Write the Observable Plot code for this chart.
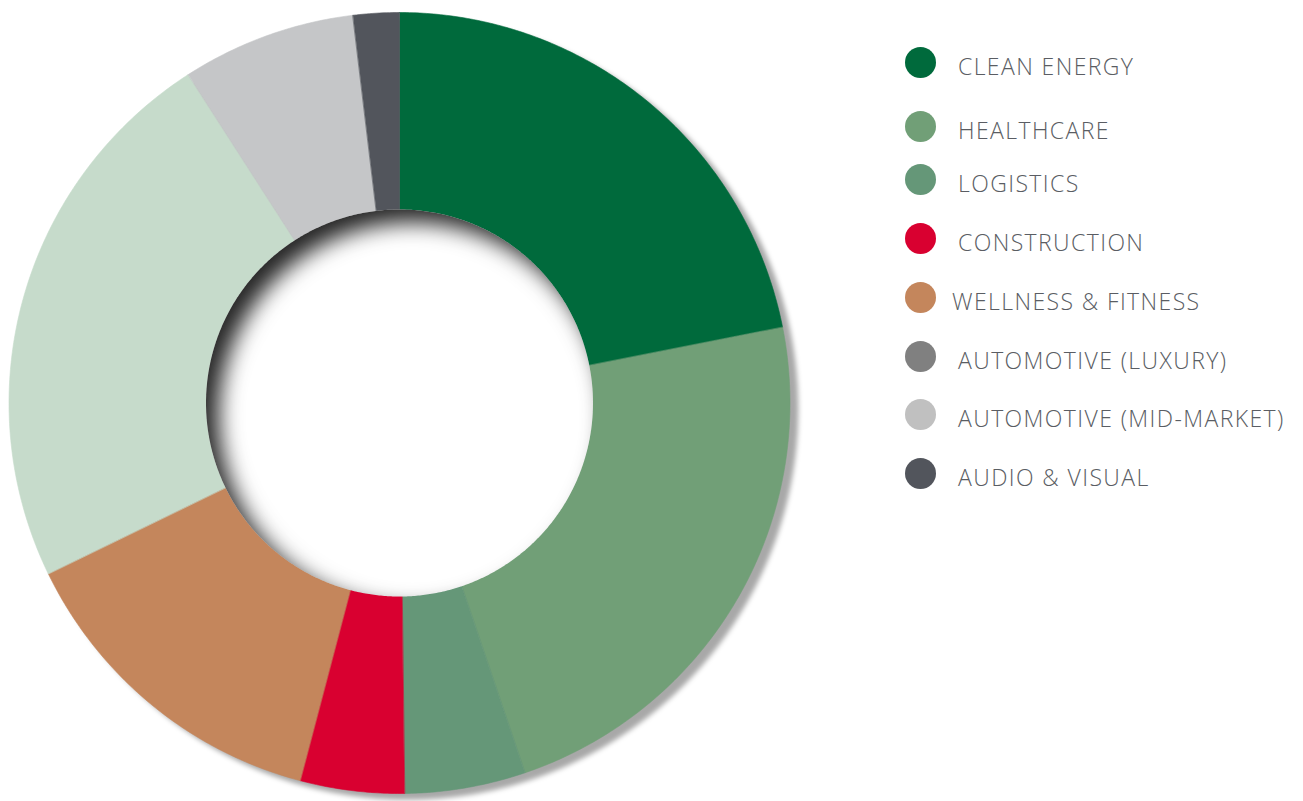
<!DOCTYPE html>
<html>
<head>
<meta charset="utf-8">
<script src="https://cdn.jsdelivr.net/npm/d3@7"></script>
<script src="https://cdn.jsdelivr.net/npm/@observablehq/plot@0.6"></script>
<style>
  html, body { margin: 0; padding: 0; background: #fff; }
  #wrap { position: relative; width: 1303px; height: 801px; overflow: hidden; }
  #chart { position: absolute; left: 0; top: 0; }
  #legend { position: absolute; left: 0; top: 0; width: 1303px; height: 801px; pointer-events: none;
    font-family: "Open Sans", sans-serif; font-weight: 300; font-size: 23px; color: #5a5d63; }
  .row { position: absolute; left: 905px; height: 31px; display: flex; align-items: center; white-space: nowrap; }
  .dot { width: 31px; height: 31px; border-radius: 50%; flex: none; }
  .lbl { margin-left: 22px; position: relative; top: 4px; letter-spacing: 1.4px; }
</style>
</head>
<body>
<div id="wrap">
  <div id="chart"></div>
  <div id="legend"></div>
</div>
<script>
// ---- data ----
const categories = ["CLEAN ENERGY", "HEALTHCARE", "LOGISTICS", "CONSTRUCTION", "WELLNESS & FITNESS", "AUTOMOTIVE (LUXURY)", "AUTOMOTIVE (MID-MARKET)", "AUDIO & VISUAL"];
const shares = [21.9, 22.9, 5.0, 4.3, 13.7, 23.1, 7.2, 1.9];
const sliceColors = ["#006a3c", "#719f77", "#659778", "#d90030", "#c4865c", "#c6dbcb", "#c5c6c8", "#52555c"];
const legendColors = ["#006a3c", "#719f77", "#659778", "#d90030", "#c4865c", "#808080", "#c0c0c0", "#52555c"];

// ---- geometry derived from data ----
const R_OUT = 1, R_IN = 0.4955;
const total = d3.sum(shares);
const slicePts = [];
let acc = 0;
categories.forEach((name, i) => {
  const a0 = acc / total * 2 * Math.PI;
  acc += shares[i];
  const a1 = acc / total * 2 * Math.PI;
  const n = Math.max(2, Math.ceil((a1 - a0) / (Math.PI / 360)));
  for (let k = 0; k <= n; k++) {
    const a = a0 + (a1 - a0) * k / n;
    slicePts.push({name, x: R_OUT * Math.sin(a), y: R_OUT * Math.cos(a)});
  }
  for (let k = n; k >= 0; k--) {
    const a = a0 + (a1 - a0) * k / n;
    slicePts.push({name, x: R_IN * 0.97 * Math.sin(a), y: R_IN * 0.97 * Math.cos(a)});
  }
});
const holePts = d3.range(0, 720).map(k => {
  const a = k / 720 * 2 * Math.PI;
  return {x: R_IN * Math.sin(a), y: R_IN * Math.cos(a)};
});

const svg = Plot.plot({
  width: 1303,
  height: 801,
  margin: 0,
  style: {background: "transparent", overflow: "visible"},
  x: {domain: [-1, 1], range: [8.5, 789.5], axis: null},
  y: {domain: [-1, 1], range: [793, 12], axis: null},
  color: {domain: categories, range: sliceColors},
  marks: [
    Plot.line(slicePts, {x: "x", y: "y", z: "name", fill: "name", stroke: "name", strokeWidth: 0.6, curve: "linear-closed"}),
    Plot.line(holePts, {x: "x", y: "y", fill: "white", stroke: "none", curve: "linear-closed"})
  ]
});

// shadows
const s = d3.select(svg);
const defs = s.insert("defs", ":first-child");
defs.html(`
  <filter id="outerShadow" x="-10%" y="-10%" width="130%" height="130%" color-interpolation-filters="sRGB">
    <feGaussianBlur in="SourceAlpha" stdDeviation="2.5"/>
    <feOffset dx="8" dy="6" result="ob"/>
    <feFlood flood-color="#a8a8a8"/>
    <feComposite in2="ob" operator="in"/>
    <feMerge><feMergeNode/><feMergeNode in="SourceGraphic"/></feMerge>
  </filter>
  <filter id="innerShadow" x="-20%" y="-20%" width="140%" height="140%" color-interpolation-filters="sRGB">
    <feOffset in="SourceAlpha" dx="13" dy="13"/>
    <feGaussianBlur stdDeviation="11" result="off"/>
    <feComposite in="SourceAlpha" in2="off" operator="out" result="inv"/>
    <feFlood flood-color="#262626"/>
    <feComposite in2="inv" operator="in" result="shadow"/>
    <feMerge><feMergeNode in="SourceGraphic"/><feMergeNode in="shadow"/></feMerge>
  </filter>`);
const groups = svg.querySelectorAll('g[aria-label="line"]');
groups[0].setAttribute("filter", "url(#outerShadow)");
groups[1].setAttribute("filter", "url(#innerShadow)");
document.getElementById("chart").appendChild(svg);

// legend
const rowTops = [62, 126, 179, 238, 297, 356, 414, 473];
const legend = d3.select("#legend");
categories.forEach((name, i) => {
  const row = legend.append("div").attr("class", "row").style("top", (rowTops[i] - 15.5) + "px");
  row.append("div").attr("class", "dot").style("background", legendColors[i]);
  row.append("div").attr("class", "lbl").style("margin-left", (i === 4 ? 16 : 22) + "px").text(name);
});
</script>
</body>
</html>
